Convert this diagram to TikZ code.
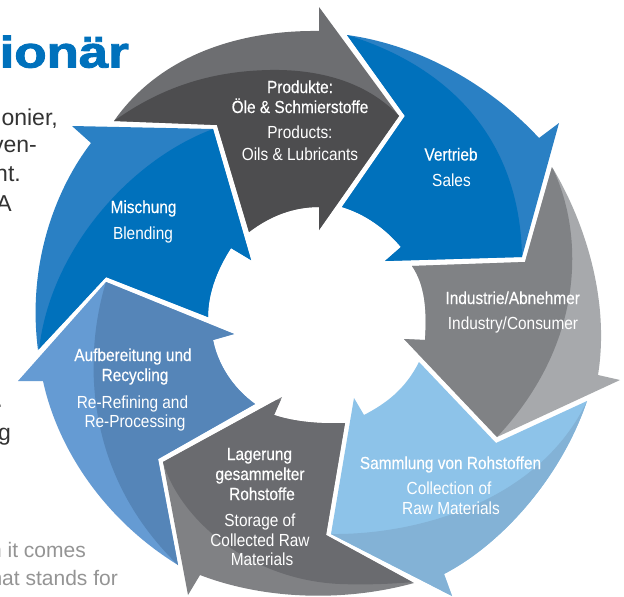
\documentclass[tikz,border=0pt]{standalone}
\usepackage{fontspec}
\setmainfont{Liberation Sans}
\newfontfamily\labreg{Liberation Sans}[FakeStretch=0.88]
\newfontfamily\labbold{Liberation Sans}[FakeStretch=0.88,FakeBold=0.3]
\newfontfamily\titlefont{Liberation Sans}[BoldFeatures={FakeBold=2}]
\definecolor{gA}{HTML}{6D6E71}\definecolor{gB}{HTML}{4D4D4F}
\definecolor{bA}{HTML}{2A80C4}\definecolor{bB}{HTML}{0071BC}
\definecolor{mA}{HTML}{659BD3}\definecolor{mB}{HTML}{5585B8}
\definecolor{hA}{HTML}{808184}\definecolor{hB}{HTML}{6A6B6F}
\definecolor{sA}{HTML}{8DC3E9}\definecolor{sB}{HTML}{83B2D6}
\definecolor{iA}{HTML}{A7A9AC}\definecolor{iB}{HTML}{808285}
\tikzset{
  lone/.style={anchor=base,text=white,font={\labbold\fontsize{17.5}{19}\selectfont}},
  ltwo/.style={anchor=base,text=white,font={\labreg\fontsize{17.5}{19}\selectfont}},
  body/.style={anchor=base east,inner sep=0pt,text=black!80,font={\fontsize{23}{29}\selectfont}},
  grey/.style={anchor=base east,inner sep=0pt,text=black!42,font={\fontsize{21}{24}\selectfont}}
}
% #1 shape path, #2 light, #3 dark, #4 dark region path
\newcommand{\cyclearrow}[4]{%
  \fill[#2] #1 -- cycle;
  \begin{scope}\clip #1 -- cycle; \fill[#3] #4 -- cycle; \end{scope}}
\begin{document}
\begin{tikzpicture}[x=1pt,y=-1pt]
\useasboundingbox (0,0) rectangle (624,597);
\fill[white] (0,0) rectangle (624,597);
% text beside the cycle
\node[anchor=base east,inner sep=0pt,text=bB,font={\titlefont\bfseries\fontsize{44}{44}\selectfont},xscale=1.2] (title) at (129,67.5) {ionär};
\node[body] (t1) at (58,125) {onier,};
\node[body] (t2) at (37,152) {ven-};
\node[body] (t3) at (21,181) {nt.};
\node[body] (t4) at (12,211) {A};
\node[body] (t5) at (3,407) {.};
\node[body] (t6) at (11,440) {g};
\node[grey] (t7) at (86,557) {n it comes};
\node[grey] (t8) at (118,585) {hat stands for};
% arrows
\cyclearrow{(114,121) .. controls (160,55) and (240,30) .. (319,31) -- (319,7) -- (399,116) -- (319,230) -- (319,207) .. controls (293,207) and (270,216) .. (249,232) -- (217,125)}{gA}{gB}
  {(114,121) .. controls (160,88) and (210,71) .. (270,70) .. controls (325,69) and (370,85) .. (399,116) -- (420,400) -- (100,400)}
\cyclearrow{(72,126) -- (213,129) -- (251,260) -- (231,248) .. controls (218,268) and (208,292) .. (208,317) -- (106,277) -- (38,350) .. controls (27,265) and (55,190) .. (91,143)}{bA}{bB}
  {(213,129) .. controls (130,160) and (50,250) .. (39,350) -- (300,400) -- (300,100)}
\cyclearrow{(347,35) .. controls (420,45) and (490,85) .. (539,138) -- (559,123) -- (522,257) -- (385,261) -- (401,247) .. controls (385,228) and (365,214) .. (342,207) -- (405,116)}{bA}{bB}
  {(347,35) .. controls (445,65) and (520,135) .. (522,257) -- (300,300) -- (300,30)}
\cyclearrow{(412,266) -- (525,262) -- (552,167) .. controls (585,222) and (610,300) .. (598,375) -- (620,380) -- (497,437) -- (404,339) -- (425,340) .. controls (427,310) and (425,285) .. (412,266)}{iA}{iB}
  {(552,167) .. controls (583,230) and (588,340) .. (497,437) -- (380,437) -- (380,167)}
\cyclearrow{(354,398) -- (364,415) .. controls (385,404) and (405,390) .. (419,362) -- (496,443) -- (587,401) .. controls (560,480) and (500,545) .. (444,574) -- (452,596) -- (331,534)}{sA}{sB}
  {(331,534) .. controls (420,535) and (540,500) .. (587,401) -- (620,620) -- (331,620)}
\cyclearrow{(282,397) -- (274,415) .. controls (295,422) and (320,424) .. (345,423) -- (326,535) -- (414,583) .. controls (345,602) and (265,600) .. (200,575) -- (188,595) -- (163,462)}{hA}{hB}
  {(163,462) .. controls (180,520) and (250,580) .. (340,584) .. controls (365,585) and (390,584) .. (414,582) -- (450,400) -- (163,400)}
\cyclearrow{(18,381) -- (106,282) -- (234,334) -- (213,340) .. controls (218,365) and (233,388) .. (255,404) -- (158,459) -- (178,565) .. controls (105,520) and (58,450) .. (43,381)}{mA}{mB}
  {(106,282) .. controls (85,350) and (80,470) .. (178,565) -- (300,600) -- (300,250)}
% labels
\node[lone] (a1) at (300,93) {Produkte:};
\node[lone] (a2) at (300,113) {Öle \& Schmierstoffe};
\node[ltwo] (a3) at (300,138) {Products:};
\node[ltwo] (a4) at (300,160) {Oils \& Lubricants};
\node[lone] (b1) at (143.5,213) {Mischung};
\node[ltwo] (b2) at (143,239) {Blending};
\node[lone] (c1) at (451,160.5) {Vertrieb};
\node[ltwo] (c2) at (451.5,186) {Sales};
\node[lone] (d1) at (512.7,304) {Industrie/Abnehmer};
\node[ltwo] (d2) at (513,329) {Industry/Consumer};
\node[lone] (e1) at (450.5,469) {Sammlung von Rohstoffen};
\node[ltwo] (e2) at (449,494) {Collection of};
\node[ltwo] (e3) at (451,514) {Raw Materials};
\node[lone] (f1) at (259.5,460) {Lagerung};
\node[lone] (f2) at (260,480) {gesammelter};
\node[lone] (f3) at (262,500) {Rohstoffe};
\node[ltwo] (f4) at (260,526) {Storage of};
\node[ltwo] (f5) at (260,546) {Collected Raw};
\node[ltwo] (f6) at (262,565) {Materials};
\node[lone] (g1) at (133,361) {Aufbereitung und};
\node[lone] (g2) at (135,381) {Recycling};
\node[ltwo] (g3) at (132.5,408) {Re-Refining and};
\node[ltwo] (g4) at (135,427) {Re-Processing};
\end{tikzpicture}
\end{document}
